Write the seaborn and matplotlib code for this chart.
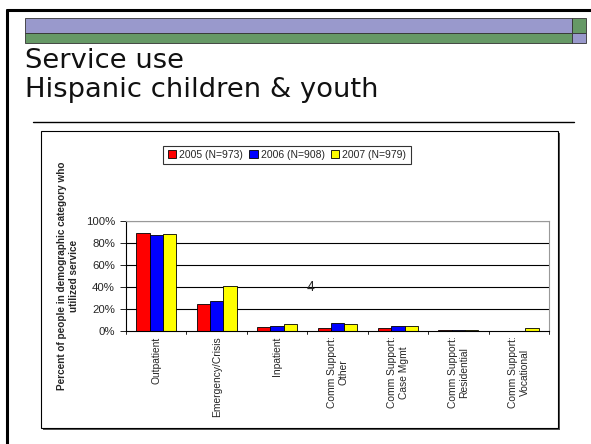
import matplotlib
matplotlib.use("Agg")
import matplotlib.pyplot as plt
from matplotlib.patches import Rectangle, Patch
from matplotlib.lines import Line2D
import seaborn as sns
import pandas as pd

# Service categories and share of Hispanic children & youth who used each one
services = ["Outpatient", "Emergency/Crisis", "Inpatient", "Comm Support:\nOther",
            "Comm Support:\nCase Mgmt", "Comm Support:\nResidential", "Comm Support:\nVocational"]
years = ["2005 (N=973)", "2006 (N=908)", "2007 (N=979)"]
pct_2005 = [89, 25, 4, 3, 3, 0.5, 0.3]
pct_2006 = [87, 27.5, 5, 7, 5, 0.5, 0.0]
pct_2007 = [88, 41, 6, 6, 5, 0.5, 2.5]
y_ticks = [0, 20, 40, 60, 80, 100]
colors = ["#FF0000", "#0000FF", "#FFFF00"]

rows = []
for yr, vals in zip(years, [pct_2005, pct_2006, pct_2007]):
    for s, v in zip(services, vals):
        rows.append({"service": s, "year": yr, "pct": v})
df = pd.DataFrame(rows)

sns.set_theme(style="white")
plt.rcParams["font.family"] = ["Liberation Sans", "DejaVu Sans"]

W, H = 591, 444
fig = plt.figure(figsize=(W / 100, H / 100), dpi=100)
fig.patch.set_facecolor("white")


def fx(x):
    return x / W


def fy(y):
    return 1 - y / H


# slide frame (top and left edges)
fig.add_artist(Line2D([fx(7), fx(591)], [fy(10), fy(10)], color="black", lw=2.2))
fig.add_artist(Line2D([fx(7), fx(7)], [fy(10), fy(444)], color="black", lw=2.2))

# header bars
fig.add_artist(Rectangle((fx(25), fy(33)), fx(572) - fx(25), fy(18) - fy(33),
                         facecolor="#9999CC", edgecolor="#333333", lw=0.6))
fig.add_artist(Rectangle((fx(25), fy(43)), fx(572) - fx(25), fy(33) - fy(43),
                         facecolor="#669966", edgecolor="#333333", lw=0.6))
fig.add_artist(Rectangle((fx(572), fy(33)), fx(586) - fx(572), fy(18) - fy(33),
                         facecolor="#669966", edgecolor="#333333", lw=0.6))
fig.add_artist(Rectangle((fx(572), fy(43)), fx(586) - fx(572), fy(33) - fy(43),
                         facecolor="#9999CC", edgecolor="#333333", lw=0.6))

# slide title
for txt, ybase in [("Service use", 68), ("Hispanic children & youth", 97)]:
    fig.text(fx(25), fy(ybase), txt, fontsize=19.7, fontname="DejaVu Sans",
             color="#111111", va="baseline", ha="left")
fig.add_artist(Line2D([fx(33), fx(574)], [fy(122), fy(122)], color="black", lw=1.0))

# chart box with shadow
fig.add_artist(Rectangle((fx(43), fy(430)), fx(560) - fx(43), fy(133) - fy(430),
                         facecolor="#555555", edgecolor="none", zorder=0.1))
fig.add_artist(Rectangle((fx(41), fy(428)), fx(558) - fx(41), fy(131) - fy(428),
                         facecolor="white", edgecolor="black", lw=0.8, zorder=0.2))

# plot area
ax = fig.add_axes([fx(126), fy(331), fx(549) - fx(126), fy(221) - fy(331)])
ax.set_zorder(5)
sns.barplot(data=df, x="service", y="pct", hue="year", palette=colors,
            edgecolor="black", linewidth=0.6, width=0.66, ax=ax, legend=False,
            saturation=1)
ax.set_ylim(0, 100)
ax.set_xlim(-0.5, len(services) - 0.5)
ax.set_yticks(y_ticks)
ax.set_yticklabels([f"{t}%" for t in y_ticks], fontsize=8.2)
ax.set_xticks(range(len(services)))
ax.set_xticklabels(services, rotation=90, fontsize=7.4, va="top", ha="center",
                   multialignment="center")
ax.tick_params(axis="x", length=0, pad=4)
ax.tick_params(axis="y", length=4, width=0.6, pad=4, left=True, color="black")
for t in y_ticks[1:]:
    ax.axhline(t, color="black", lw=0.8, zorder=0)
for s in ["top", "right"]:
    ax.spines[s].set_color("#999999")
    ax.spines[s].set_linewidth(0.8)
for s in ["left", "bottom"]:
    ax.spines[s].set_color("black")
    ax.spines[s].set_linewidth(0.8)
# category separator ticks below the axis
for b in range(len(services) + 1):
    ax.plot([b - 0.5, b - 0.5], [0, -3], color="black", lw=0.6, clip_on=False)
ax.set_xlabel("")
ax.set_ylabel("Percent of people in demographic category who\nutilized service",
              fontsize=7.2, fontweight="bold", labelpad=5)
ax.text(2.55, 40, "4", fontsize=10, ha="center", va="center")

handles = [Patch(facecolor=c, edgecolor="black", lw=0.6) for c in colors]
leg = fig.legend(handles, years, loc="center", bbox_to_anchor=(fx(287), fy(155)),
                 ncol=3, fontsize=7.5, frameon=True, fancybox=False,
                 handlelength=0.8, handleheight=0.8, handletextpad=0.3,
                 columnspacing=0.6, borderpad=0.4)
leg.get_frame().set_edgecolor("black")
leg.get_frame().set_linewidth(0.8)
leg.set_zorder(6)

fig.savefig("out.png", dpi=100)
